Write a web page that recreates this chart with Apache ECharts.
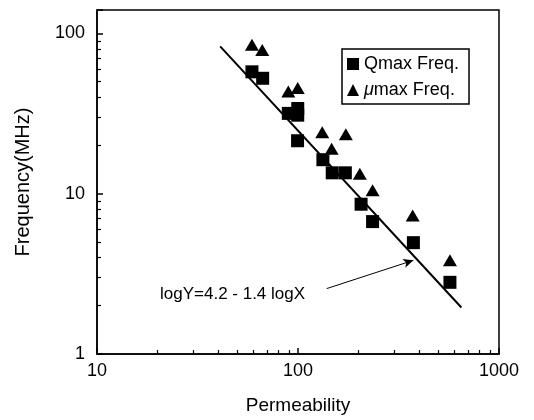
<!DOCTYPE html>
<html>
<head>
<meta charset="utf-8">
<script src="https://cdn.jsdelivr.net/npm/echarts@6/dist/echarts.min.js"></script>
<style>
  html, body { margin: 0; padding: 0; background: #fff; }
  #chart { width: 534px; height: 420px; }
</style>
</head>
<body>
<div id="chart"></div>
<script>
// permeability / frequency(MHz) pairs
const qmaxPoints = [
  [59, 57.6],
  [66.7, 52.5],
  [89.5, 31.7],
  [99.7, 34],
  [99.7, 30.9],
  [99.5, 21.4],
  [133, 16.3],
  [148, 13.5],
  [172, 13.5],
  [206, 8.6],
  [235, 6.7],
  [375, 4.95],
  [570, 2.8],
]
const umaxPoints = [
  [59, 85],
  [66.4, 78.7],
  [89.5, 43.4],
  [99.7, 45.6],
  [132, 24.2],
  [173, 23.5],
  [147, 19.1],
  [203, 13.3],
  [235, 10.5],
  [372, 7.3],
  [570, 3.85],
]
// fitted line logY = 4.2 - 1.4 logX, end points
const fitLine = [
  [41, 83],
  [650, 1.95],
]
const arrowFrom = [139, 2.56]
const arrowTo = [375, 3.84]
const xRange = [10, 1000]
const yRange = [1, 140]

const chart = echarts.init(document.getElementById('chart'))
const font = 'Arial'
const ticks = () => ({
  show: true,
  inside: true,
  length: 6,
  lineStyle: { color: '#000', width: 1.5 },
})
const minorTicks = () => ({
  show: true,
  splitNumber: 9,
  length: 4,
  lineStyle: { color: '#000', width: 1.2 },
})
const option = {
  animation: false,
  textStyle: { fontFamily: font, color: '#000' },
  grid: {
    left: 97,
    right: 35,
    top: 10,
    bottom: 61,
    show: true,
    backgroundColor: 'transparent',
    borderColor: '#000',
    borderWidth: 1.5,
  },
  legend: {
    orient: 'vertical',
    left: 342,
    top: 49,
    padding: [6, 10, 5, 5],
    itemGap: 8,
    itemWidth: 12,
    itemHeight: 12,
    borderColor: '#000',
    borderWidth: 1.5,
    data: [
      { name: 'Qmax Freq.', icon: 'rect' },
      { name: 'μmax Freq.', icon: 'triangle' },
    ],
    formatter(name) {
      return name === 'μmax Freq.' ? '{i|μ}max Freq.' : name
    },
    textStyle: {
      fontFamily: font,
      fontSize: 18,
      color: '#000',
      rich: {
        i: { fontFamily: font, fontSize: 18, fontStyle: 'italic', color: '#000' },
      },
    },
  },
  xAxis: {
    type: 'log',
    min: xRange[0],
    max: xRange[1],
    name: 'Permeability',
    nameLocation: 'middle',
    nameGap: 42,
    nameTextStyle: { fontFamily: font, fontSize: 19, color: '#000' },
    axisLine: { show: true, onZero: false, lineStyle: { color: '#000', width: 1.5 } },
    axisTick: ticks(),
    minorTick: minorTicks(),
    axisLabel: {
      margin: 8,
      fontFamily: font,
      fontSize: 18,
      color: '#000',
      formatter: (v) => String(v),
    },
    splitLine: { show: false },
    z: 5,
  },
  yAxis: {
    type: 'log',
    min: yRange[0],
    max: yRange[1],
    name: 'Frequency(MHz)',
    nameLocation: 'middle',
    nameGap: 64,
    nameTextStyle: { fontFamily: font, fontSize: 20, color: '#000' },
    axisLine: { show: true, onZero: false, lineStyle: { color: '#000', width: 1.5 } },
    axisTick: ticks(),
    minorTick: minorTicks(),
    axisLabel: {
      showMaxLabel: false,
      margin: 12,
      fontFamily: font,
      fontSize: 18,
      color: '#000',
      formatter: (v) => String(v),
    },
    splitLine: { show: false },
    z: 5,
  },
  graphic: [
    {
      type: 'text',
      left: 160,
      top: 286,
      style: {
        text: 'logY=4.2 - 1.4 logX',
        font: '17px Arial',
        fill: '#000',
      },
    },
  ],
  series: [
    {
      name: 'fit',
      type: 'line',
      data: fitLine,
      showSymbol: false,
      lineStyle: { color: '#000', width: 2 },
      markLine: {
        silent: true,
        symbol: ['none', 'arrow'],
        symbolSize: [7, 10],
        label: { show: false },
        lineStyle: { color: '#000', width: 1, type: 'solid' },
        data: [[{ coord: arrowFrom }, { coord: arrowTo }]],
      },
      z: 1,
    },
    {
      name: 'Qmax Freq.',
      type: 'scatter',
      symbol: 'rect',
      symbolSize: 13,
      itemStyle: { color: '#000', opacity: 1 },
      data: qmaxPoints,
      z: 3,
    },
    {
      name: 'μmax Freq.',
      type: 'scatter',
      symbol: 'triangle',
      symbolSize: [14, 12],
      itemStyle: { color: '#000', opacity: 1 },
      data: umaxPoints,
      z: 3,
    },
  ],
}
chart.setOption(option)
</script>
</body>
</html>
